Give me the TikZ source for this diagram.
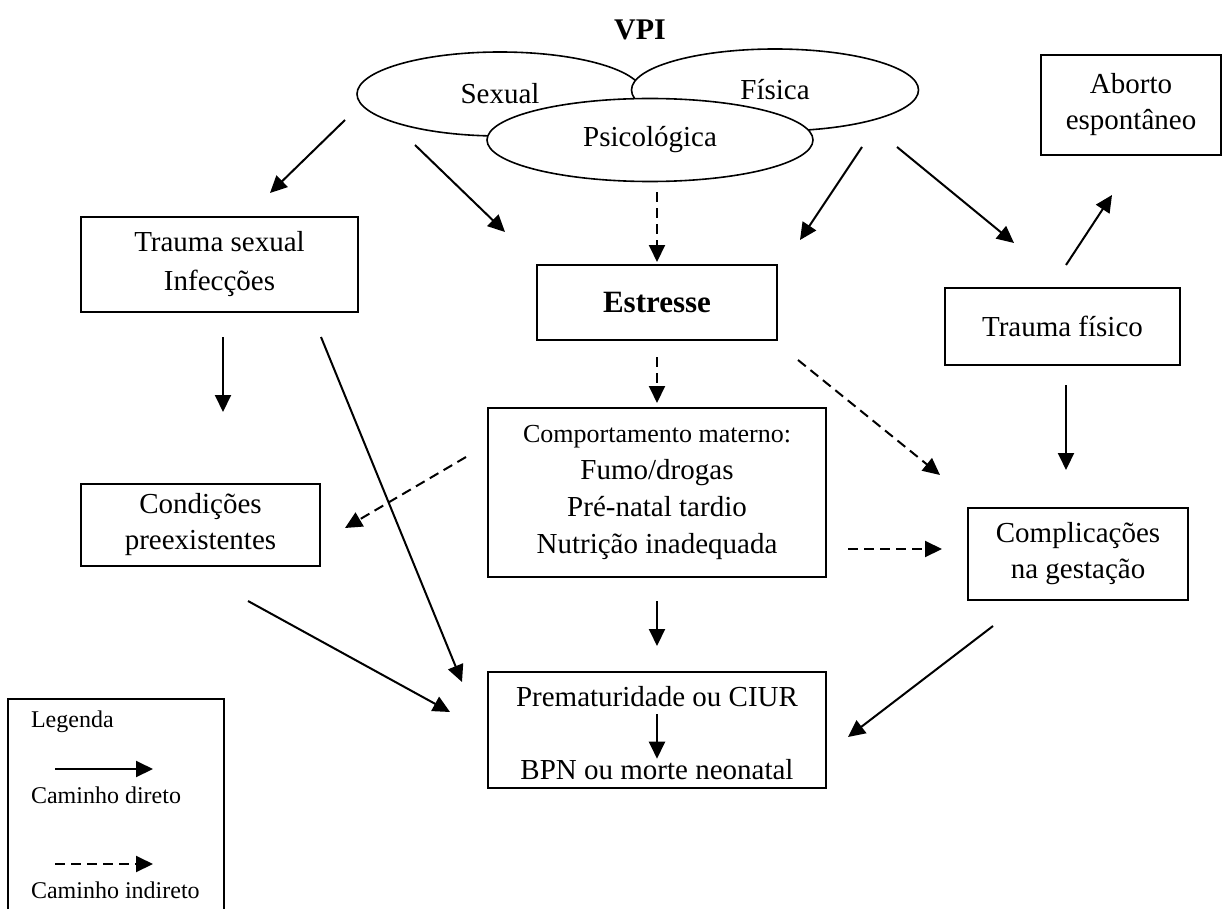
\documentclass[tikz,border=0pt]{standalone}
\usepackage{fontspec}
\setmainfont{Liberation Serif}
\usetikzlibrary{arrows.meta,shapes.geometric}
\tikzset{
	box/.style={draw, line width=1pt, rectangle, align=center, inner sep=0pt, fill=white},
	oval/.style={draw, ellipse, line width=0.8pt, fill=white, inner sep=0pt},
	direct/.style={line width=1pt, -{Triangle[length=8.5pt,width=8pt]}},
	indirect/.style={direct, dash pattern=on 5pt off 3pt},
	legtext/.style={font=\fontsize{12}{14}\selectfont, anchor=west}
}

\begin{document}
\begin{tikzpicture}[x=0.5pt, y=-0.5pt, font=\fontsize{14.5}{18}\selectfont]
	\useasboundingbox (0,0) rectangle (1224,909);
	
	% VPI and its three forms
	\node[font=\fontsize{15}{18}\selectfont\bfseries] (vpi) at (640,30) {VPI};
	\node[oval, minimum width=143pt, minimum height=42pt] (sexual) at (500,94) {Sexual};
	\node[oval, minimum width=143.5pt, minimum height=41pt] (fisica) at (775,90) {Física};
	\node[oval, minimum width=163pt, minimum height=41.5pt] (psico) at (650,140) {Psicológica};
	
	% Boxes
	\node[box, minimum width=138.5pt, minimum height=47.5pt, font=\fontsize{14.5}{19.5}\selectfont] (trsex) at (219.5,264.5) {Trauma sexual\\Infecções};
	\node[box, minimum width=120pt, minimum height=37.5pt, font=\fontsize{15.5}{18}\selectfont\bfseries] (estresse) at (657,302.5) {Estresse};
	\node[box, minimum width=90pt, minimum height=50pt] (aborto) at (1131,105) {Aborto\\espontâneo};
	\node[box, minimum width=117.5pt, minimum height=38.5pt] (trfis) at (1062.5,326.5) {Trauma físico};
	\node[box, minimum width=169pt, minimum height=84.5pt, font=\fontsize{14.5}{18.5}\selectfont] (comp) at (657,492.5) {{\fontsize{13}{15}\selectfont Comportamento materno:}\\Fumo/drogas\\Pré-natal tardio\\Nutrição inadequada};
	\node[box, minimum width=119.5pt, minimum height=41pt] (cond) at (200.5,525) {Condições\\preexistentes};
	\node[box, minimum width=110pt, minimum height=46pt] (compl) at (1078,554) {Complicações\\na gestação};
	\node[box, minimum width=169pt, minimum height=58pt] (prem) at (657,730) {};
	\node (premtxt) at (657,697) {Prematuridade ou CIUR};
	\node (bpntxt) at (657,770) {BPN ou morte neonatal};
	
	% Paths
	\draw[direct] ([shift={(-155,26)}]sexual.center) -- ([shift={(50.5,-71.5)}]trsex.center);
	\draw[direct] ([shift={(-85,51)}]sexual.center) -- ([shift={(-152,-70.5)}]estresse.center);
	\draw[indirect, shorten <=5pt, shorten >=1pt] (estresse.north |- psico.south) -- (estresse.north);
	\draw[direct] ([shift={(87,57)}]fisica.center) -- ([shift={(143,-62.5)}]estresse.center);
	\draw[direct] ([shift={(122,57)}]fisica.center) -- ([shift={(-48.5,-83.5)}]trfis.center);
	\draw[direct] ([shift={(3.5,-61.5)}]trfis.center) -- ([shift={(-19,90)}]aborto.center);
	\draw[direct] ([shift={(3.5,72.5)}]trsex.center) -- ([shift={(22.5,-113)}]cond.center);
	\draw[direct] ([shift={(101.5,72.5)}]trsex.center) -- ([shift={(-195,-48)}]prem.center);
	\draw[indirect, shorten <=8pt, shorten >=2pt] (estresse.south) -- (comp.north);
	\draw[indirect] ([shift={(141,57.5)}]estresse.center) -- ([shift={(-138,-79)}]compl.center);
	\draw[direct] ([shift={(3.5,58.5)}]trfis.center) -- ([shift={(-12,-84)}]compl.center);
	\draw[indirect] ([shift={(-191,-35.5)}]comp.center) -- ([shift={(144.5,3)}]cond.center);
	\draw[indirect] ([shift={(191,56.5)}]comp.center) -- ([shift={(-136,-5)}]compl.center);
	\draw[direct, shorten <=11.5pt, shorten >=12.5pt] (comp.south) -- (prem.north);
	\draw[direct] ([shift={(47.5,76)}]cond.center) -- ([shift={(-207,-18)}]prem.center);
	\draw[direct] ([shift={(-85,72)}]compl.center) -- ([shift={(191,7)}]prem.center);
	\draw[direct, shorten >=-3pt] (premtxt.south) -- (bpntxt.north);
	
	% Legend
	\draw[line width=1pt] (8,909) -- (8,699) -- (224,699) -- (224,909);
	\node[legtext] (legenda) at (24,722) {Legenda};
	\coordinate (dirA) at (55,769);
	\coordinate (dirB) at (153,769);
	\draw[direct] (dirA) -- (dirB);
	\node[legtext] (diretotxt) at (24,795) {Caminho direto};
	\coordinate (indA) at (55,864);
	\coordinate (indB) at (153,864);
	\draw[indirect] (indA) -- (indB);
	\node[legtext] (indiretotxt) at (24,890) {Caminho indireto};
\end{tikzpicture}
\end{document}
